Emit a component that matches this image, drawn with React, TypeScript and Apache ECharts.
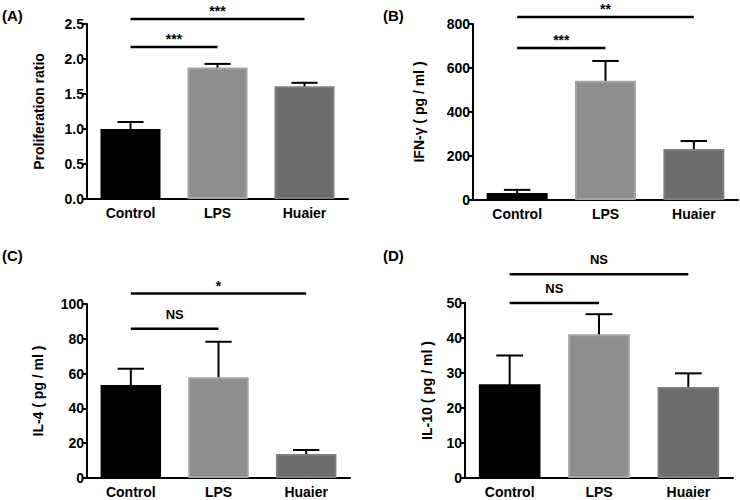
import React, { useEffect, useRef } from "react";
import * as echarts from "echarts";

const categories = ["Control", "LPS", "Huaier"];

const valuesA = [1.0, 1.88, 1.61];
const errA = [0.1, 0.05, 0.05];
const valuesB = [32, 542, 232];
const errB = [14, 90, 36];
const valuesC = [53.4, 57.9, 13.8];
const errC = [9.4, 20.4, 2.3];
const valuesD = [26.8, 41.1, 26.0];
const errD = [8.2, 5.7, 3.9];

// significance brackets: [fromIndex, toIndex, level]
const sigA = [[0, 2, 2.57], [0, 1, 2.17]];
const sigLabelsA = ["***", "***"];
const sigB = [[0, 2, 832], [0, 1, 691]];
const sigLabelsB = ["**", "***"];
const sigC = [[0, 2, 106], [0, 1, 85.8]];
const sigLabelsC = ["*", "NS"];
const sigD = [[0, 2, 58.2], [0, 1, 50]];
const sigLabelsD = ["NS", "NS"];

const yTitles = ["Proliferation ratio", "IFN-\u03b3 ( pg / ml )", "IL-4 ( pg / ml )", "IL-10 ( pg / ml )"];
const panelLabels = ["(A)", "(B)", "(C)", "(D)"];
const yMax = [2.5, 800, 100, 50];
const yInterval = [0.5, 200, 20, 10];

const FONT = '"Liberation Sans", Arial, sans-serif';
const barColors = ["#000000", "#8e8e91", "#6c6c6c"];
const barBorders = ["#000000", "#a4a4a4", "#7e7e7e"];

export default function App() {
  const ref = useRef<HTMLDivElement>(null);
  useEffect(() => {
    document.body.style.margin = "0";
    const chart = echarts.init(ref.current!, null, { renderer: "svg" });
    const grids = [
      { left: 87, top: 24, width: 261, height: 175 },
      { left: 473, top: 24, width: 265, height: 176 },
      { left: 87, top: 304, width: 263, height: 174 },
      { left: 465, top: 303, width: 268, height: 175 },
    ];
    const nameGaps = [41, 47, 42, 31];
    const values = [valuesA, valuesB, valuesC, valuesD];
    const errs = [errA, errB, errC, errD];
    const sigs = [sigA, sigB, sigC, sigD];
    const sigLabels = [sigLabelsA, sigLabelsB, sigLabelsC, sigLabelsD];

    const xAxis = grids.map((_, i) => ({
      type: "category",
      gridIndex: i,
      data: categories,
      axisLine: { lineStyle: { color: "#000", width: 2 } },
      axisTick: { alignWithLabel: true, length: 5, lineStyle: { color: "#000", width: 2 } },
      axisLabel: { color: "#000", fontFamily: FONT, fontWeight: "bold", fontSize: 14, margin: 7 },
    }));
    const yAxis = grids.map((_, i) => ({
      type: "value",
      gridIndex: i,
      min: 0,
      max: yMax[i],
      interval: yInterval[i],
      name: yTitles[i],
      nameLocation: "middle",
      nameGap: nameGaps[i],
      nameTextStyle: { color: "#000", fontFamily: FONT, fontWeight: "bold", fontSize: 14 },
      splitLine: { show: false },
      axisLine: { show: true, lineStyle: { color: "#000", width: 2 } },
      axisTick: { show: true, length: 4, lineStyle: { color: "#000", width: 2 } },
      axisLabel: {
        color: "#000",
        fontFamily: FONT,
        fontWeight: "bold",
        fontSize: 14,
        margin: 3,
        formatter: i === 0 ? (v: number) => v.toFixed(1) : undefined,
      },
    }));

    const series: any[] = [];
    grids.forEach((_, i) => {
      series.push({
        type: "custom",
        xAxisIndex: i,
        yAxisIndex: i,
        z: 1,
        data: values[i].map((v, j) => [j, v, v + errs[i][j]]),
        renderItem: (params: any, api: any) => {
          const base = api.coord([api.value(0), api.value(1)]);
          const top = api.coord([api.value(0), api.value(2)]);
          const band = api.size([1, 0])[0];
          const hw = band * 0.15;
          const st = { stroke: "#000", lineWidth: 2 };
          return {
            type: "group",
            children: [
              { type: "line", shape: { x1: base[0], y1: base[1] + 4, x2: top[0], y2: top[1] }, style: st },
              { type: "line", shape: { x1: top[0] - hw, y1: top[1], x2: top[0] + hw, y2: top[1] }, style: st },
            ],
          };
        },
      });
      series.push({
        type: "bar",
        xAxisIndex: i,
        yAxisIndex: i,
        z: 2,
        barWidth: "69%",
        data: values[i].map((v, j) => ({
          value: v,
          itemStyle: { color: barColors[j], borderColor: barBorders[j], borderWidth: j === 0 ? 0 : 2 },
        })),
      });
      series.push({
        type: "custom",
        xAxisIndex: i,
        yAxisIndex: i,
        z: 3,
        clip: false,
        data: sigs[i].map((s, k) => [s[0], s[1], s[2], k]),
        renderItem: (params: any, api: any) => {
          const p1 = api.coord([api.value(0), api.value(2)]);
          const p2 = api.coord([api.value(1), api.value(2)]);
          const label = sigLabels[i][api.value(3)];
          const isStar = label.indexOf("*") >= 0;
          return {
            type: "group",
            children: [
              { type: "line", shape: { x1: p1[0], y1: p1[1], x2: p2[0], y2: p2[1] }, style: { stroke: "#000", lineWidth: 2.5 } },
              {
                type: "text",
                x: (p1[0] + p2[0]) / 2,
                y: p1[1] - (isStar ? 1 : 8),
                style: {
                  text: label,
                  fill: "#000",
                  font: `bold ${isStar ? 14 : 13}px ${FONT}`,
                  align: "center",
                  verticalAlign: "bottom",
                },
              },
            ],
          };
        },
      });
    });

    const labelPos = [
      [2, 17],
      [383, 17],
      [2, 257],
      [383, 257],
    ];

    chart.setOption({
      animation: false,
      grid: grids,
      xAxis,
      yAxis,
      series,
      graphic: panelLabels.map((t, i) => ({
        type: "text",
        left: labelPos[i][0],
        top: labelPos[i][1] - 9,
        style: { text: t, fill: "#000", font: `bold 15px ${FONT}` },
      })),
    });
    return () => chart.dispose();
  }, []);
  return <div ref={ref} style={{ width: 740, height: 500 }} />;
}
